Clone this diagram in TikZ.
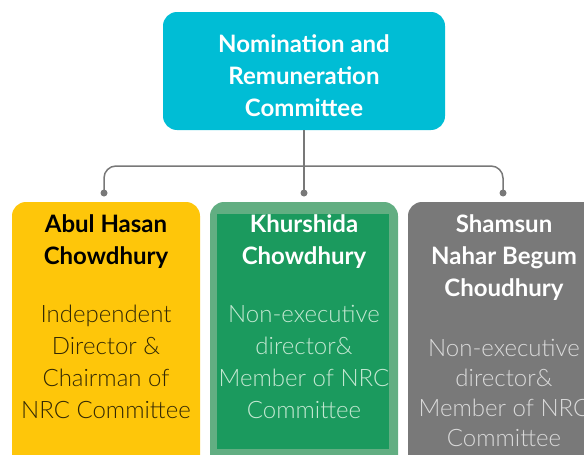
\documentclass[tikz,border=0pt]{standalone}
\usepackage{fontspec}
\setmainfont{Lato}
\newfontfamily\lightfont{Lato Light}
\definecolor{cyanbox}{RGB}{0,189,213}
\definecolor{yelbox}{RGB}{254,198,10}
\definecolor{grnout}{RGB}{98,174,130}
\definecolor{grnin}{RGB}{27,154,94}
\definecolor{grybox}{RGB}{121,121,121}
\definecolor{conn}{RGB}{120,120,120}
\definecolor{yeltext}{RGB}{50,40,5}
\definecolor{grntext}{RGB}{196,232,210}
\definecolor{grytext}{RGB}{218,218,218}
\tikzset{
  box/.style={rounded corners=14pt, draw=none, inner sep=0pt},
  namefont/.style={font=\fontsize{24}{32}\selectfont\bfseries, align=center, inner sep=0pt},
  descfont/.style={font=\lightfont\fontsize{24}{32}\selectfont, align=center, inner sep=0pt},
  connline/.style={draw=conn, line width=1.5pt},
  dot/.style={fill=conn, circle, inner sep=0pt, minimum size=7pt}
}
\begin{document}
\begin{tikzpicture}[x=1pt,y=-1pt]
\useasboundingbox (0,0) rectangle (584,455);
\clip (0,0) rectangle (584,455);
% top box
\node[box, fill=cyanbox, minimum width=282pt, minimum height=118pt] (top) at (304,71) {};
\node[namefont, text=white] (toptext) at (304,76) {Nomination and\\Remuneration\\Committee};
% member boxes
\node[box, fill=yelbox, minimum width=188pt, minimum height=276pt] (yel) at (106,340) {};
\node[box, fill=grnout, minimum width=188pt, minimum height=276pt] (grn) at (304,340) {};
\node[fill=grnin, inner sep=0pt, minimum width=172pt, minimum height=235pt] (grninner) at (303,331.5) {};
\node[box, fill=grybox, minimum width=188pt, minimum height=276pt] (gry) at (502,340) {};
% dots and connectors
\node[dot] (dl) at (104,193) {};
\node[dot] (dm) at (304,193) {};
\node[dot] (dr) at (503,193) {};
\coordinate (hr) at (503,166);
\draw[connline] (top.south) -- (dm.center);
\draw[connline, rounded corners=12pt] (dl.center) |- (hr) -- (dr.center);
% texts
\node[namefont, text=black] (yname) at (106,242) {Abul Hasan\\Chowdhury};
\node[descfont, text=yeltext] (ydesc) at (106,362) {Independent\\Director \&\\Chairman of\\NRC Committee};
\node[namefont, text=white] (gname) at (304,242) {Khurshida\\Chowdhury};
\node[descfont, text=grntext] (gdesc) at (304,362) {Non-executive\\director\&\\Member of NRC\\Committee};
\node[namefont, text=white] (sname) at (504,258) {Shamsun\\Nahar Begum\\Choudhury};
\node[descfont, text=grytext, font=\lightfont\fontsize{24}{30}\selectfont] (sdesc) at (504,393) {Non-executive\\director\&\\Member of NRC\\Committee};
\end{tikzpicture}
\end{document}
